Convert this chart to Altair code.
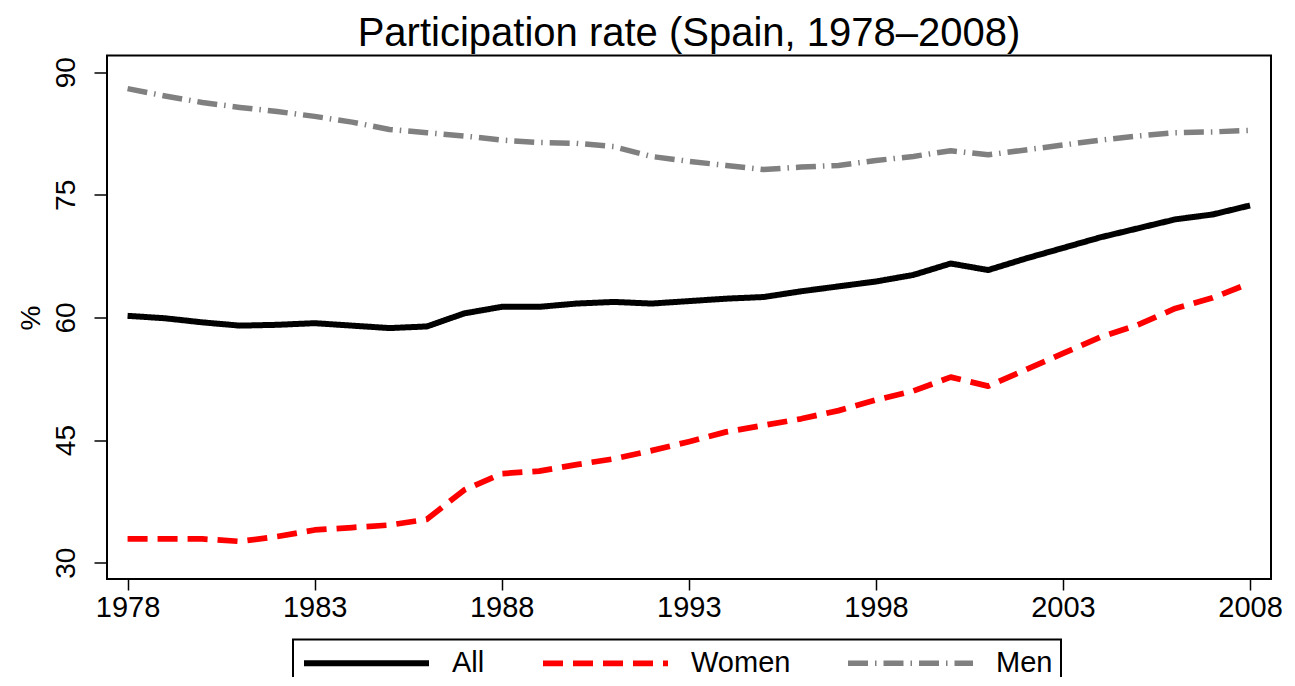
import altair as alt
import pandas as pd

years = list(range(1978, 2009))
all_vals = [60.2, 59.9, 59.4, 59.0, 59.1, 59.3, 59.0, 58.7, 58.9, 60.5, 61.3, 61.3, 61.7, 61.9, 61.7, 62.0,
            62.3, 62.5, 63.2, 63.8, 64.4, 65.2, 66.6, 65.8, 67.2, 68.5, 69.8, 70.9, 72.0, 72.6, 73.7]
women_vals = [32.9, 32.9, 32.9, 32.6, 33.2, 34.0, 34.3, 34.6, 35.3, 38.9, 40.9, 41.2, 42.0, 42.7, 43.7, 44.8,
              46.0, 46.8, 47.6, 48.6, 49.9, 51.0, 52.7, 51.6, 53.6, 55.6, 57.6, 59.1, 61.1, 62.4, 64.2]
men_vals = [88.0, 87.1, 86.3, 85.7, 85.2, 84.6, 83.9, 83.0, 82.6, 82.2, 81.7, 81.4, 81.3, 80.9, 79.7, 79.1,
            78.6, 78.1, 78.4, 78.6, 79.2, 79.7, 80.4, 79.9, 80.5, 81.1, 81.7, 82.2, 82.6, 82.7, 82.9]
series_names = ["All", "Women", "Men"]
x_ticks = [1978, 1983, 1988, 1993, 1998, 2003, 2008]
y_ticks = [30, 45, 60, 75, 90]

rows = []
for name, vals in zip(series_names, [all_vals, women_vals, men_vals]):
    for y, v in zip(years, vals):
        rows.append({"year": y, "rate": v, "series": name})
df = pd.DataFrame(rows)

FONT = "Liberation Sans"

chart = alt.Chart(df).mark_line(strokeJoin="round").encode(
    x=alt.X("year:Q",
            scale=alt.Scale(domain=[1977.45, 2008.56], nice=False, zero=False),
            axis=alt.Axis(values=x_ticks, format="d", title=None, grid=False, domain=False,
                          tickSize=11, tickColor="black", tickWidth=1.5,
                          labelFontSize=29, labelFont=FONT, labelColor="black", labelPadding=3)),
    y=alt.Y("rate:Q",
            scale=alt.Scale(domain=[28.0, 92.05], nice=False, zero=False),
            axis=alt.Axis(values=y_ticks, title="%", grid=False, domain=False,
                          tickSize=13, tickColor="black", tickWidth=1.5,
                          labelFontSize=28, labelFont=FONT, labelColor="black", labelAngle=270,
                          labelPadding=14,
                          titleFontSize=28, titleFont=FONT, titleFontWeight="normal", titleColor="black",
                          titleAngle=270, titleX=-76, titleY=262, titleAlign="center",
                          titleBaseline="middle")),
    color=alt.Color("series:N",
                    scale=alt.Scale(domain=series_names, range=["#000000", "#FF0000", "#808080"]),
                    legend=alt.Legend(title=None, orient="none", legendX=186, legendY=584,
                                      direction="horizontal", symbolType="M-1,0H9", symbolSize=625,
                                      labelFontSize=29, labelFont=FONT, labelColor="black",
                                      labelOffset=120, columnPadding=46, padding=8,
                                      strokeColor="black", fillColor="white", cornerRadius=0)),
    strokeDash=alt.StrokeDash("series:N",
                              scale=alt.Scale(domain=series_names,
                                              range=[[1, 0], [20, 10], [20, 7, 1.5, 7]])),
    strokeWidth=alt.StrokeWidth("series:N",
                                scale=alt.Scale(domain=series_names, range=[6, 5.5, 5])),
).properties(
    width=1164,
    height=523.5,
    title=alt.TitleParams("Participation rate (Spain, 1978\u20132008)", fontSize=40, font=FONT,
                          fontWeight="normal", color="black", anchor="middle", frame="group", offset=2),
    autosize=alt.AutoSizeParams(type="none"),
    padding={"left": 99, "top": 47.5, "right": 14, "bottom": 98},
).configure_view(
    stroke="black", strokeWidth=2
).configure_legend(
    strokeWidth=2
)

chart.save("out.html", embed_options={"renderer": "svg", "actions": False})
